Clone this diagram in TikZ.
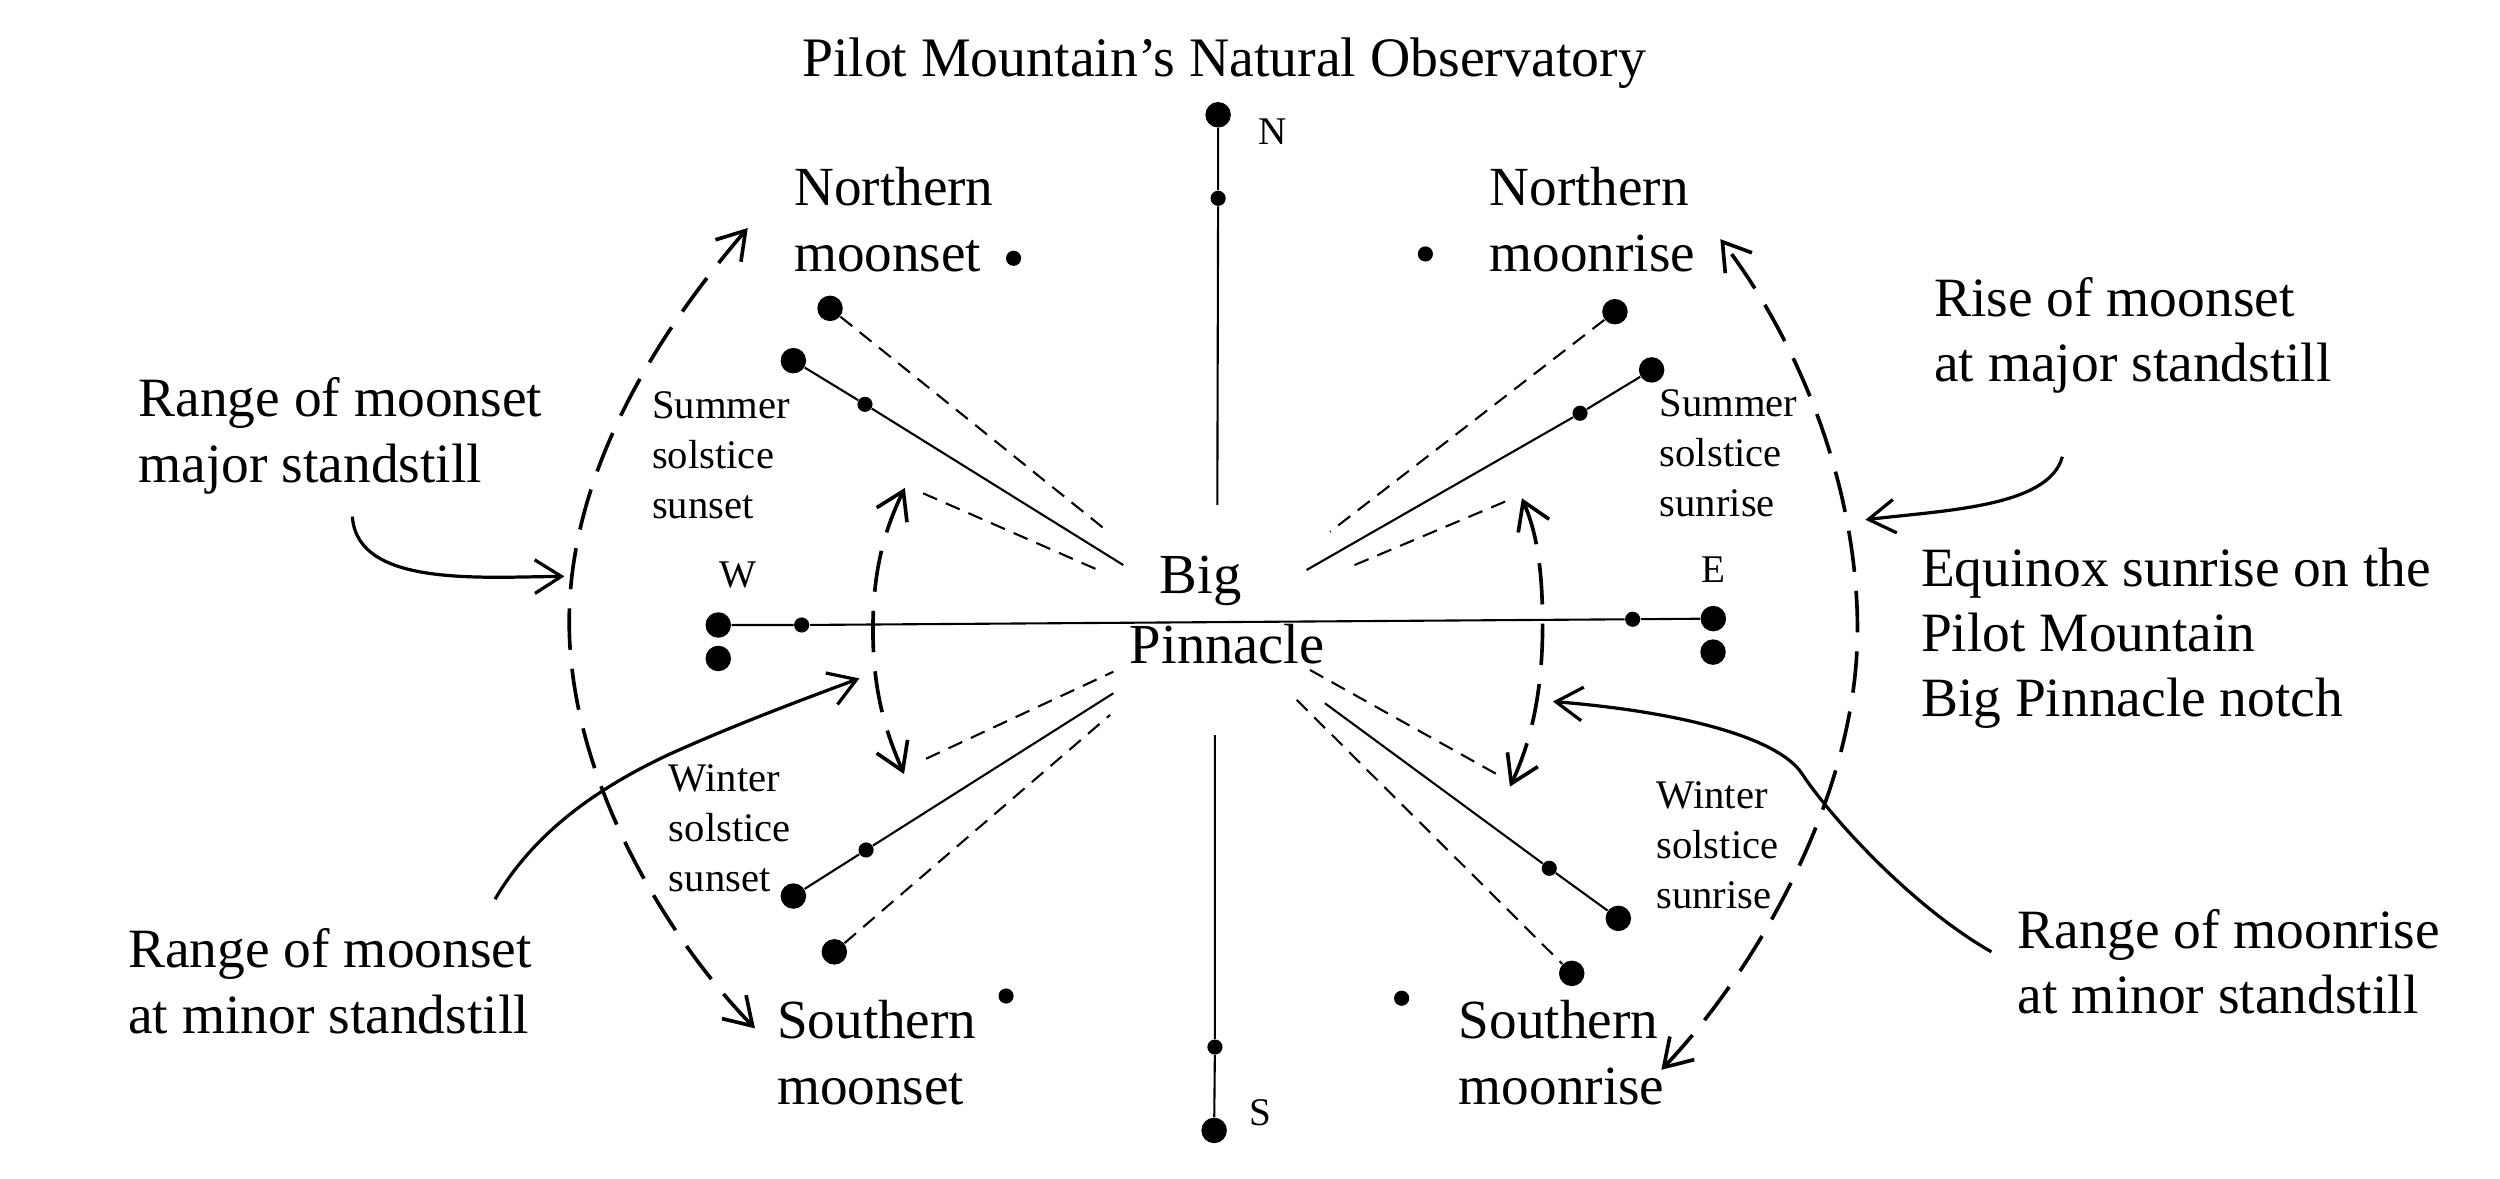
\documentclass[tikz,border=0pt]{standalone}
\usepackage{fontspec}
\setmainfont{Liberation Serif}
\usetikzlibrary{arrows.meta}
\newcommand{\mylines}[1]{\begin{tabular}[t]{@{}l@{}}#1\end{tabular}}
\begin{document}
\begin{tikzpicture}[x=0.02cm,y=-0.02cm,
  bigdot/.style={circle,fill=black,inner sep=0pt,minimum size=0.32cm},
  smalldot/.style={circle,fill=black,inner sep=0pt,minimum size=0.19cm},
  ray/.style={line width=0.75pt},
  dray/.style={line width=0.75pt,dash pattern=on 0.19cm off 0.12cm},
  arcline/.style={line width=1.3pt,dash pattern=on 0.52cm off 0.24cm,
     {Straight Barb[length=9.5pt,width=12pt]}-{Straight Barb[length=9.5pt,width=12pt]}},
  hand/.style={line width=1.15pt,-{Straight Barb[length=9.5pt,width=12pt]}},
  lbl/.style={inner sep=0pt,anchor=base west},
  outer/.style={lbl,font=\fontsize{19.8pt}{23.3pt}\selectfont},
  moon/.style={lbl,font=\fontsize{19.7pt}{23.8pt}\selectfont},
  sun/.style={lbl,font=\fontsize{14.5pt}{17.9pt}\selectfont},
  compass/.style={inner sep=0pt,font=\fontsize{14pt}{16pt}\selectfont},
]
\useasboundingbox (0,0) rectangle (1568,739);

% title
\node[inner sep=0pt,anchor=base,font=\fontsize{19.9pt}{23pt}\selectfont] (title) at (767.7,47.7) {Pilot Mountain’s Natural Observatory};

% centre label
\node[lbl,font=\fontsize{20.2pt}{25pt}\selectfont] (bp) at (708.3,372.1) {\mylines{\hspace*{10.6pt}Big\\Pinnacle}};

% ray ends near Big Pinnacle
\coordinate (nEnd) at (763.5,316.7);
\coordinate (sEnd) at (762,461);
\coordinate (ul1) at (696.2,334.5);
\coordinate (ul2) at (704.5,354.4);
\coordinate (ul3) at (691,358.5);
\coordinate (ul3s) at (579,309.4);
\coordinate (ur1) at (834.2,333.5);
\coordinate (ur2) at (819.5,357.5);
\coordinate (ur3) at (844.6,356.5);
\coordinate (ur3s) at (944,314.6);
\coordinate (ll1) at (698.3,421.3);
\coordinate (ll1s) at (580.8,475.9);
\coordinate (ll2) at (698.3,434.8);
\coordinate (ll3) at (696.2,448.4);
\coordinate (lr1) at (821.6,420.2);
\coordinate (lr1s) at (939.7,486.1);
\coordinate (lr2) at (831,441.1);
\coordinate (lr3) at (813.3,439);

% compass dots
\node[bigdot] (Nd) at (764,72) {};
\node[smalldot] (Ns) at (764,124.4) {};
\node[bigdot] (Sd) at (761.5,709) {};
\node[smalldot] (Ss) at (762,656.7) {};
\node[bigdot] (Wd) at (450.5,392) {};
\node[bigdot] (Wd2) at (450.5,413) {};
\node[smalldot] (Ws) at (502.8,392) {};
\node[bigdot] (Ed) at (1074.6,388) {};
\node[bigdot] (Ed2) at (1074.4,409) {};
\node[smalldot] (Es) at (1024,388.4) {};

% compass letters
\node[compass] (Nl) at (798.4,82.6) {N};
\node[compass] (Sl) at (790.7,698.2) {S};
\node[compass] (Wl) at (463,360.6) {W};
\node[compass] (El) at (1074.6,357.5) {E};

% ray dots
\node[bigdot] (nmsd) at (520.6,193.4) {};
\node[bigdot] (sssd) at (497.6,226.2) {};
\node[smalldot] (ssss) at (542.5,253.6) {};
\node[bigdot] (nmrd) at (1012.9,195.5) {};
\node[bigdot] (ssrd) at (1035.9,232) {};
\node[smalldot] (ssrs) at (991,259.2) {};
\node[bigdot] (wssd) at (497.6,562) {};
\node[smalldot] (wsss) at (543.2,533.1) {};
\node[bigdot] (smsd) at (523.3,597) {};
\node[bigdot] (wsrd) at (1015,576) {};
\node[smalldot] (wsrs) at (971.7,544.6) {};
\node[bigdot] (smrd) at (985.8,610.5) {};

% isolated moon dots
\node[smalldot] (nms) at (635.7,162) {};
\node[smalldot] (nmr) at (894,159.3) {};
\node[smalldot] (sms) at (631,624.7) {};
\node[smalldot] (smr) at (879.1,626.1) {};

% compass lines
\draw[ray] (Nd) -- (Ns) -- (nEnd);
\draw[ray] (sEnd) -- (Ss) -- (Sd);
\draw[ray] (Wd) -- (Ws) -- (Es) -- (Ed);

% rays
\draw[dray] (nmsd) -- (ul1);
\draw[ray] (sssd) -- (ssss) -- (ul2);
\draw[dray] (ul3s) -- (ul3);
\draw[dray] (nmrd) -- (ur1);
\draw[ray] (ssrd) -- (ssrs) -- (ur2);
\draw[dray] (ur3s) -- (ur3);
\draw[dray] (ll1s) -- (ll1);
\draw[ray] (wssd) -- (wsss) -- (ll2);
\draw[dray] (smsd) -- (ll3);
\draw[dray] (lr1) -- (lr1s);
\draw[ray] (lr2) -- (wsrs) -- (wsrd);
\draw[dray] (lr3) -- (smrd);

% big dashed arcs (major standstill)
\coordinate (bl1) at (473.5,645);
\coordinate (bl2) at (469,143);
\coordinate (br1) at (1042,671);
\coordinate (br2) at (1079,150);
\draw[arcline] (bl1) .. controls (420,590) and (357,490) .. (357,390)
   .. controls (357,290) and (420,200) .. (bl2);
\draw[arcline] (br1) .. controls (1100,610) and (1165,500) .. (1165,395)
   .. controls (1165,300) and (1125,210) .. (br2);

% small dashed arcs (minor standstill)
\coordinate (ml1) at (567,485.5);
\coordinate (ml2) at (567.5,306);
\coordinate (mr1) at (947,493.4);
\coordinate (mr2) at (954.5,312.5);
\draw[arcline] (ml1) .. controls (556,460) and (547.5,435) .. (547.5,395)
   .. controls (547.5,355) and (556,330) .. (ml2);
\draw[arcline] (mr1) .. controls (958,470) and (967.5,440) .. (967.5,392)
   .. controls (967.5,350) and (962,330) .. (mr2);

% hand-drawn pointer arrows
\coordinate (h1s) at (221,324);
\coordinate (h1e) at (354,361.5);
\coordinate (h2s) at (1293.5,286.5);
\coordinate (h2e) at (1170,326);
\coordinate (h3s) at (310.5,564);
\coordinate (h3e) at (539,425.5);
\coordinate (h4s) at (1249,597);
\coordinate (h4e) at (974,440);
\draw[hand] (h1s) .. controls (224,368) and (300,362) .. (h1e);
\draw[hand] (h2s) .. controls (1285,318) and (1220,320) .. (h2e);
\draw[hand] (h3s) .. controls (335,522) and (375,494) .. (420,473)
   .. controls (460,455) and (500,440) .. (h3e);
\draw[hand] (h4s) .. controls (1200,569) and (1150,515) .. (1130,485)
   .. controls (1116,464) and (1060,447) .. (h4e);

% labels
\node[moon] (lnms) at (497.8,128.6) {\mylines{Northern\\moonset}};
\node[moon] (lnmr) at (934,128.6) {\mylines{Northern\\moonrise}};
\node[moon] (lsms) at (487.1,651.2) {\mylines{Southern\\moonset}};
\node[moon] (lsmr) at (914.7,651.2) {\mylines{Southern\\moonrise}};
\node[sun] (lsss) at (408.7,262.4) {\mylines{Summer\\solstice\\sunset}};
\node[sun] (lssr) at (1040.7,261.3) {\mylines{Summer\\solstice\\sunrise}};
\node[sun] (lwss) at (419.2,496.5) {\mylines{Winter\\solstice\\sunset}};
\node[sun] (lwsr) at (1038.6,507) {\mylines{Winter\\solstice\\sunrise}};
\node[outer] (t1) at (86.6,261.5) {\mylines{Range of moonset\\major standstill}};
\node[outer] (t2) at (1212.8,198.5) {\mylines{Rise of moonset\\at major standstill}};
\node[outer] (t3) at (1204.5,367.7) {\mylines{Equinox sunrise on the\\Pilot Mountain\\Big Pinnacle notch}};
\node[outer] (t4) at (80.1,607.1) {\mylines{Range of moonset\\at minor standstill}};
\node[outer] (t5) at (1265.3,594.6) {\mylines{Range of moonrise\\at minor standstill}};
\end{tikzpicture}
\end{document}
